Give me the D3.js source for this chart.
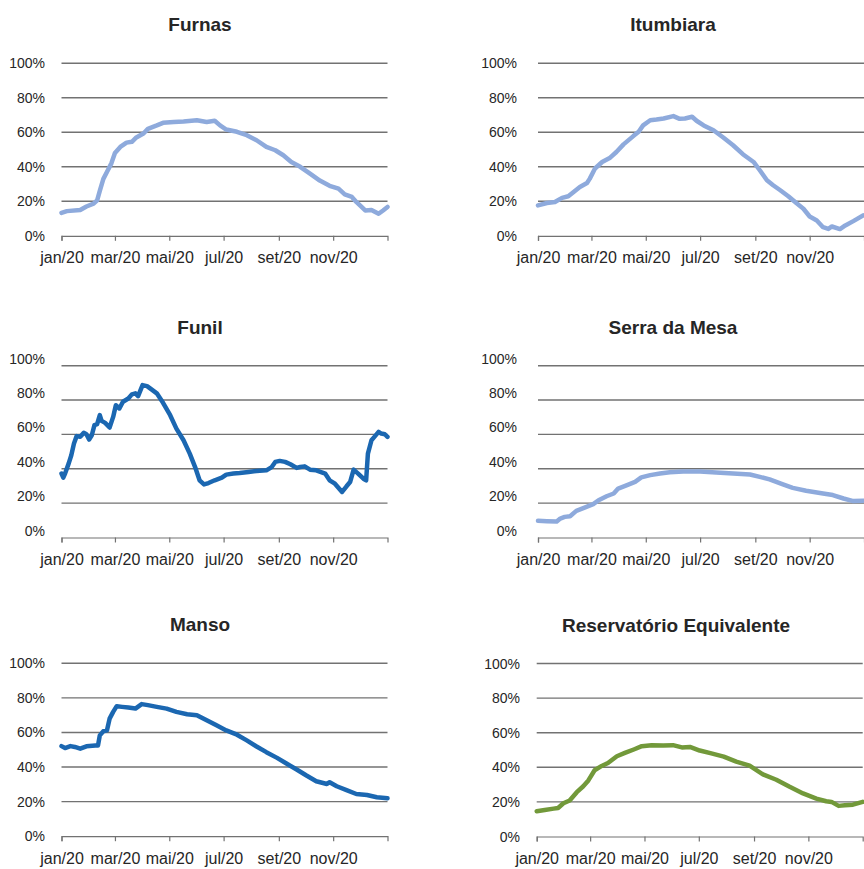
<!DOCTYPE html>
<meta charset="utf-8">
<style>
  body { margin: 0; background: #fff; }
  text { font-family: "Liberation Sans", Arial, sans-serif; fill: #262626; }
</style>
<svg width="864" height="869"></svg>

<script src="https://d3js.org/d3.v7.min.js"></script>
<script>

// tick labels for the x axis (every two months)
var meses = ["jan/20", "mar/20", "mai/20", "jul/20", "set/20", "nov/20"]
var mesesIdx = [0, 2, 4, 6, 8, 10]
var pctTicks = [0, 20, 40, 60, 80, 100]

// [day of 2020, % of useful volume]
var furnas = [[0,13.3],[6,14.3],[21,15],[28,17],[36,18.6],[40,20.5],[43,26],[47,33],[51,37],[56,42],
  [60,48],[66,51.5],[73,54],[79,54.5],[84,57],[92,59.3],[97,62],[107,64],[114,65.5],[126,66],
  [137,66.3],[152,67],[163,66],[172,66.7],[178,64],[185,61.6],[197,60.3],[208,58.3],[219,55.4],
  [230,51.5],[240,49.6],[249,46.7],[258,42.8],[268,40],[279,36],[290,32],[301,29],[311,27.3],
  [318,24],[326,22.5],[331,19.6],[341,14.7],[348,15],[356,12.8],[361,14.7],[366,16.7]]

var itumbiara = [[0,17.6],[10,19],[19,19.6],[27,22],[34,22.9],[40,25.4],[47,28.3],[55,30.6],
  [58,33],[64,39],[72,42.8],[81,45.3],[88,48.6],[96,53],[107,57.8],[113,60.3],[118,64],[126,67],
  [133,67.4],[141,68],[152,69.4],[159,67.8],[165,68],[173,69],[178,66.7],[186,64],[197,61.2],
  [208,57],[219,52.5],[230,47.3],[242,42.8],[249,38],[257,32.2],[264,29.3],[272,26.4],[281,22.9],
  [290,19],[298,15.7],[305,11.2],[313,8.9],[320,5],[326,4],[330,5.4],[339,3.9],[345,6],[354,8.5],[365,11.8]]

var funil = [[0,37.2],[2,34.8],[4,37.2],[8,43],[11,47.9],[14,54.7],[17,59],[21,58.6],[25,60.9],
  [28,60.1],[31,57],[34,59.5],[37,65.4],[40,66],[43,71.2],[45,67.9],[49,66.7],[54,64],[58,70.2],
  [61,77],[65,75.1],[69,79],[75,80.9],[79,83.3],[83,83.9],[86,82.3],[91,88.7],[96,88.1],[101,86.2],
  [107,83.9],[114,78.4],[122,71.2],[129,63.4],[137,56.6],[144,48.8],[150,41],[155,33.3],[160,30.9],
  [165,31.7],[172,33.3],[180,34.8],[185,36.6],[193,37.2],[200,37.5],[210,38.1],[219,38.7],[230,39.1],
  [236,41],[240,44],[245,44.6],[251,44],[257,42.6],[264,40.5],[268,41],[273,41.4],[279,39.5],
  [286,39.1],[296,37.2],[301,33.3],[307,31.3],[315,26.5],[320,29.8],[324,32.3],[328,39.5],[333,37.2],
  [339,34.2],[342,33.3],[344,48.8],[348,56.6],[352,59],[356,61.5],[359,60.5],[363,60.1],[366,58.6]]

var serraDaMesa = [[0,9.7],[10,9.5],[21,9.3],[25,11],[30,12],[36,12.4],[43,15.5],[53,17.5],[62,19.4],
  [68,21.7],[77,24],[85,25.6],[90,28.5],[100,30.5],[109,32.4],[116,35],[126,36.3],[137,37.3],
  [148,38],[163,38.4],[182,38.4],[200,37.9],[219,37.3],[238,36.7],[249,35.3],[260,33.8],[275,30.9],
  [286,28.9],[301,27.2],[320,25.6],[331,24.7],[343,22.7],[354,21.2],[365,21.4]]

var manso = [[0,52.1],[4,51],[10,52.1],[15,51.6],[21,50.6],[28,52],[38,52.5],[41,52.5],[43,58.3],
  [47,60.7],[51,61.2],[54,68],[58,71.9],[62,75.2],[68,74.8],[75,74.4],[83,73.8],[90,76.4],[97,75.8],
  [107,74.8],[118,73.8],[129,71.9],[141,70.5],[152,70],[163,67],[174,64.1],[185,61.2],[197,58.7],
  [208,55.4],[219,51.9],[230,48.6],[242,45.3],[253,41.9],[264,38.6],[275,35.1],[286,31.8],[298,30.2],
  [301,31.2],[309,28.9],[320,26.7],[331,24.4],[343,23.8],[354,22.5],[366,21.9]]

var equivalente = [[0,14.6],[9,15.3],[19,16.1],[24,16.5],[30,19.2],[37,20.8],[45,25.6],[52,28.9],
  [58,32.4],[65,38.3],[73,40.8],[80,42.5],[90,46.4],[99,48.3],[109,50.3],[118,52.2],[129,52.8],
  [142,52.6],[153,52.8],[163,51.5],[172,51.8],[183,49.7],[195,48.2],[210,46.2],[224,43.3],[239,41],
  [254,35.9],[269,32.8],[284,28.7],[299,24.9],[314,21.9],[325,20.4],[331,20],[339,17.7],[346,18],
  [355,18.4],[366,20]]

var LIGHT = '#8eaadc'
var DARK = '#1b67b1'
var GREEN = '#72993a'

// one entry per small chart
var panels = [
  { title: "Furnas", data: furnas, color: LIGHT, left: 61.5, top: 63.3, bottom: 235.8, titleX: 200, labelX: 45, labelShift: 0 },
  { title: "Itumbiara", data: itumbiara, color: LIGHT, left: 538, top: 63.3, bottom: 235.8, titleX: 673, labelX: 517, labelShift: 0 },
  { title: "Funil", data: funil, color: DARK, left: 61.5, top: 365.7, bottom: 537.5, titleX: 200, labelX: 45, labelShift: -7 },
  { title: "Serra da Mesa", data: serraDaMesa, color: LIGHT, left: 538, top: 365.7, bottom: 537.5, titleX: 673, labelX: 517, labelShift: -7 },
  { title: "Manso", data: manso, color: DARK, left: 61.5, top: 663.3, bottom: 836.2, titleX: 200, labelX: 45, labelShift: 0 },
  { title: "Reservatório Equivalente", data: equivalente, color: GREEN, left: 536.7, top: 663.5, bottom: 836.5, titleX: 676, labelX: 520, labelShift: 0 }
]

var plotWidth = 326
var svg = d3.select('svg')
var start = new Date(2020, 0, 1)

panels.forEach(function(p) {
  var g = svg.append('g')

  var x = d3.scaleTime()
    .domain([start, new Date(2021, 0, 1)])
    .range([p.left, p.left + plotWidth])

  var y = d3.scaleLinear()
    .domain([0, 100])
    .range([p.bottom, p.top])

  // title
  g.append('text')
    .attr('x', p.titleX)
    .attr('y', p.top - 32)
    .attr('text-anchor', 'middle')
    .style('font-size', '19px')
    .style('font-weight', 'bold')
    .text(p.title)

  // horizontal gridlines (not the 0 line, the axis draws that)
  g.append('g').selectAll('line')
    .data(pctTicks.filter(function(t) { return t > 0 }))
    .enter().append('line')
      .attr('x1', p.left)
      .attr('x2', p.left + plotWidth)
      .attr('y1', function(t) { return y(t) })
      .attr('y2', function(t) { return y(t) })
      .attr('stroke', '#727272')
      .attr('stroke-width', 1.4)

  // y labels
  g.append('g').selectAll('text')
    .data(pctTicks)
    .enter().append('text')
      .attr('x', p.labelX)
      .attr('y', function(t) { return y(t) + p.labelShift + 5 })
      .attr('text-anchor', 'end')
      .style('font-size', '14px')
      .text(function(t) { return t + '%' })

  // x axis with a tick at the start of every second month
  var tickDates = mesesIdx.map(function(m) { return new Date(2020, m, 1) })
  var xAxis = d3.axisBottom(x)
    .tickValues(tickDates)
    .tickSize(5)
    .tickFormat(function(d, i) { return meses[i] })

  var ax = g.append('g')
    .attr('transform', 'translate(0,' + p.bottom + ')')
    .call(xAxis)
  ax.select('.domain').attr('stroke', '#727272').attr('stroke-width', 1.2)
  ax.selectAll('.tick line').attr('stroke', '#727272').attr('stroke-width', 1.2)
  ax.selectAll('.tick text')
    .attr('y', 16)
    .attr('fill', '#262626')
    .style('font-size', '16px')
    .style('font-family', '"Liberation Sans", Arial, sans-serif')

  // the reservoir line
  var line = d3.line()
    .x(function(d) { return x(d3.timeDay.offset(start, d[0])) })
    .y(function(d) { return y(d[1]) })

  g.append('path')
    .datum(p.data)
    .attr('fill', 'none')
    .attr('stroke', p.color)
    .attr('stroke-width', 4.5)
    .attr('stroke-linejoin', 'round')
    .attr('stroke-linecap', 'round')
    .attr('d', line)
})

</script>
